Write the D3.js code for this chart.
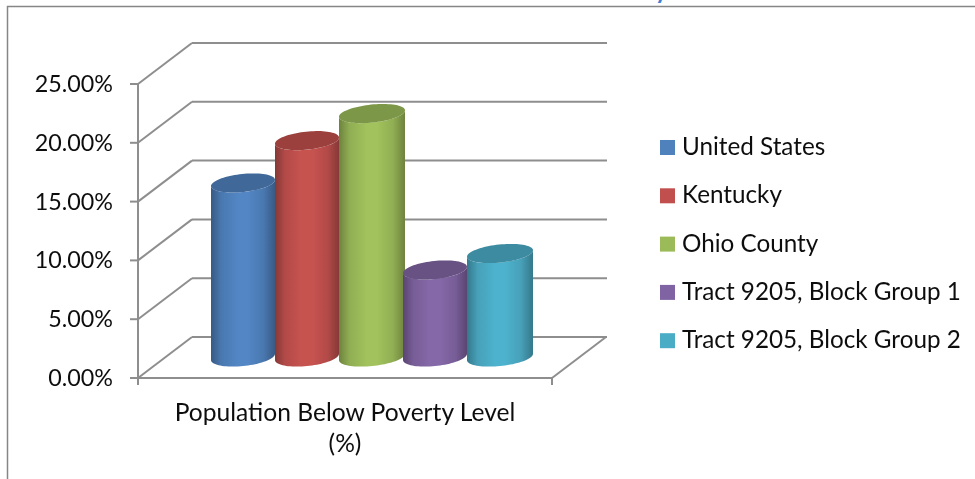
<!DOCTYPE html>
<html><head><meta charset="utf-8">
<script src="https://cdn.jsdelivr.net/npm/d3@7"></script>
<style>html,body{margin:0;padding:0;background:#fff}svg{display:block}text{font-family:Lato,"Open Sans",sans-serif;fill:#111}</style>
</head><body><div id="c"></div>
<script>
const categories=["United States","Kentucky","Ohio County","Tract 9205, Block Group 1","Tract 9205, Block Group 2"];
const values=[14.8,18.4,20.7,7.4,8.8];
const colors=["#4f81bd","#c0504d","#9bbb59","#8064a2","#4bacc6"];
const yTicks=[0,5,10,15,20,25];
const xLabel=["Population Below Poverty Level","(%)"];

const W=975,H=479;
const svg=d3.select("#c").append("svg").attr("width",W).attr("height",H);
const defs=svg.append("defs");
defs.append("filter").attr("id","soft").attr("x","-2%").attr("y","-2%").attr("width","104%").attr("height","104%")
  .append("feGaussianBlur").attr("stdDeviation",0.4);
const y=d3.scaleLinear().domain([0,25]).range([378,84]);
const x=d3.scaleBand().domain(categories).range([211,531]);
const depth={x:54,y:-41};
const lineCol="#8e8e8e";

svg.append("path").attr("d",`M7.5,${H}V6.5H${W}`).attr("fill","none").attr("stroke","#868686").attr("stroke-width",1.5);
svg.append("text").attr("x",655).attr("y",-1).attr("font-size",24).attr("font-weight",700).style("fill","#3f7fd6").text("y");

const g=svg.append("g").attr("filter","url(#soft)");
const frontR=552,frontL=138;
function ln(x1,y1,x2,y2,w=2){g.append("line").attr("x1",x1).attr("y1",y1).attr("x2",x2).attr("y2",y2).attr("stroke",lineCol).attr("stroke-width",w);}
yTicks.forEach(t=>{
  const yy=y(t);
  ln(frontL,yy,frontL+depth.x,yy+depth.y);
  ln(frontL+depth.x,yy+depth.y,frontR+depth.x+1,yy+depth.y);
  ln(frontL-8,yy,frontL,yy);
  g.append("text").attr("x",113).attr("y",yy+8).attr("text-anchor","end").attr("font-size",23.3).text(t.toFixed(2)+"%");
});
ln(frontL,y(25),frontL,y(0)+7);
ln(frontL,y(0),frontR,y(0));
ln(frontR,y(0),frontR,y(0)+7);
ln(frontR,y(0),frontR+depth.x,y(0)+depth.y);

const theta=6*Math.PI/180;
function grad(c,i){
  const base=d3.color(c);
  const dk=base.darker(1.0).formatHex(), md=base.darker(0.2).formatHex(), lt=base.brighter(0.1).formatHex();
  const id="g"+i;
  const gr=defs.append("linearGradient").attr("id",id);
  [[0,dk],[0.16,md],[0.42,lt],[0.58,lt],[0.82,md],[1,dk]].forEach(s=>gr.append("stop").attr("offset",s[0]).attr("stop-color",s[1]));
  return id;
}
const baseShift=-21;
categories.forEach((c,i)=>{
  const bw=x.bandwidth();
  const cx=x(c)+bw/2+(i===2?1:0)+(i===4?1:0);
  const w=(i===2||i===4)?bw/2+1:bw/2;
  const b=9;
  const a=Math.sqrt((w*w-b*b*Math.sin(theta)**2)/(Math.cos(theta)**2));
  const pt=(t,yc)=>[cx+a*Math.cos(t)*Math.cos(theta)+b*Math.sin(t)*Math.sin(theta),
                    yc-a*Math.cos(t)*Math.sin(theta)+b*Math.sin(t)*Math.cos(theta)];
  const t0=Math.atan((b/a)*Math.tan(theta));
  const yTop=y(values[i])+baseShift, yBot=y(0)+baseShift;
  const lower=d3.range(0,41).map(k=>pt(t0+Math.PI*k/40,yBot));
  const bodyPts=lower.concat(d3.range(0,41).map(k=>pt(t0+Math.PI-Math.PI*k/40,yTop)));
  const line=d3.line();
  g.append("path").attr("d",line(bodyPts)+"Z").attr("fill",`url(#${grad(colors[i],i)})`);
  const topPts=d3.range(0,81).map(k=>pt(2*Math.PI*k/80,yTop));
  g.append("path").attr("d",line(topPts)+"Z").attr("fill",d3.color(colors[i]).darker(0.6).formatHex());
});

xLabel.forEach((t,i)=>g.append("text").attr("x",345).attr("y",421+i*31).attr("text-anchor","middle").attr("font-size",24.6).text(t));

categories.forEach((c,i)=>{
  g.append("rect").attr("x",660).attr("y",140+i*48.3).attr("width",15).attr("height",15).attr("fill",colors[i]);
  g.append("text").attr("x",682).attr("y",155+i*48.3).attr("font-size",24.25).text(c);
});
</script></body></html>
